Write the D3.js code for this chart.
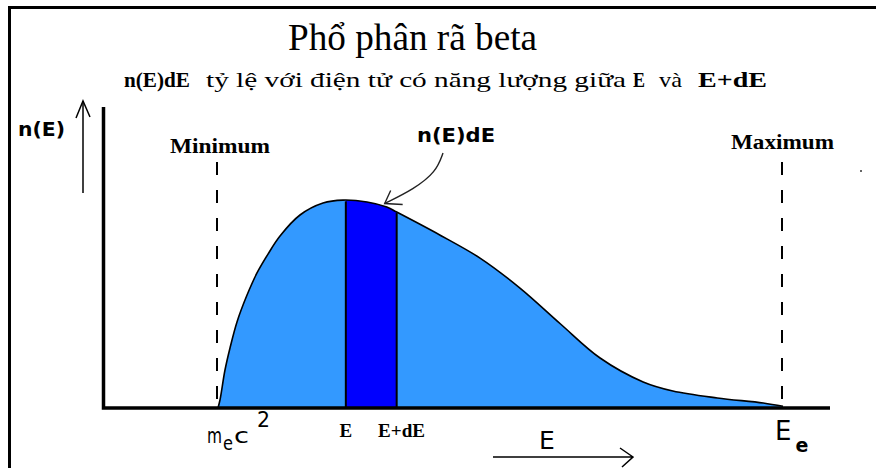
<!DOCTYPE html>
<html lang="vi">
<head>
<meta charset="UTF-8">
<title>Phổ phân rã beta</title>
<script src="https://d3js.org/d3.v7.min.js"></script>
<style>
  body { margin: 0; background: #fff; }
  svg { display: block; }
  .serif { font-family: "Liberation Serif", "Times New Roman", serif; }
  .sans { font-family: "DejaVu Sans", Verdana, sans-serif; }
</style>
</head>
<body>
<svg width="876" height="470"></svg>
<script>
// energy (arbitrary units, mec2 = 1, Ee = 9) and spectrum height n(E), peak ~ 1
const energy    = [1.00, 1.028, 1.099, 1.17, 1.269, 1.411, 1.552, 1.708, 1.878, 2.161, 2.487, 2.77, 3.11, 3.39, 3.53, 4.14, 4.71, 5.28, 5.85, 6.41, 7.02, 7.44, 8.07, 8.72, 9.00];
const intensity = [0.00, 0.038, 0.181, 0.286, 0.41, 0.538, 0.643, 0.733, 0.819, 0.919, 0.976, 0.99, 0.981, 0.957, 0.933, 0.824, 0.714, 0.57, 0.40, 0.238, 0.124, 0.081, 0.048, 0.024, 0.008];

// slice E .. E+dE
const sliceE = [2.81, 3.53];
const minE = 1, maxE = 9;

const spectrum = energy.map((e, i) => ({ e: e, n: intensity[i] }));

const svg = d3.select("svg");

const x = d3.scaleLinear().domain([1, 9]).range([218, 783]);
const y = d3.scaleLinear().domain([0, 1]).range([408, 198]);

// frame (top + left edge)
svg.append("path")
   .attr("d", "M9.5,468 V7.5 H876")
   .attr("fill", "none")
   .attr("stroke", "#000")
   .attr("stroke-width", 3);

// title
svg.append("text").attr("class", "serif")
   .attr("x", 288).attr("y", 50)
   .attr("font-size", 38)
   .attr("textLength", 249).attr("lengthAdjust", "spacingAndGlyphs")
   .text("Phổ phân rã beta");

// subtitle
const sub = [
  { t: "n(E)dE", x: 124, w: 66, b: true },
  { t: "tỷ lệ với điện tử có năng lượng giữa", x: 206, w: 420, b: false },
  { t: "E", x: 633, w: 12, b: true },
  { t: "và", x: 659, w: 23, b: false },
  { t: "E+dE", x: 698, w: 69, b: true }
];
svg.selectAll(".sub").data(sub).enter().append("text")
   .attr("class", "sub serif")
   .attr("x", d => d.x).attr("y", 87)
   .attr("font-size", 21)
   .attr("font-weight", d => d.b ? "bold" : "normal")
   .attr("textLength", d => d.w).attr("lengthAdjust", "spacingAndGlyphs")
   .text(d => d.t);

// area under the spectrum
const curve = d3.curveCatmullRom.alpha(0.5);
const area = d3.area()
   .x(d => x(d.e))
   .y0(y(0))
   .y1(d => y(d.n))
   .curve(curve);

const line = d3.line()
   .x(d => x(d.e))
   .y(d => y(d.n))
   .curve(curve);

svg.append("path")
   .datum(spectrum)
   .attr("d", area)
   .attr("fill", "#3399ff");

// dark slice between E and E+dE
svg.append("clipPath").attr("id", "slice")
   .append("rect")
   .attr("x", x(sliceE[0])).attr("y", 0)
   .attr("width", x(sliceE[1]) - x(sliceE[0])).attr("height", 470);

svg.append("path")
   .datum(spectrum)
   .attr("d", area)
   .attr("fill", "#0000ff")
   .attr("clip-path", "url(#slice)");

// slice edges
const curveY = e => {
  const i = d3.bisector(d => d.e).left(spectrum, e);
  const a = spectrum[Math.max(i - 1, 0)], b = spectrum[i];
  const t = b.e === a.e ? 0 : (e - a.e) / (b.e - a.e);
  return a.n + t * (b.n - a.n);
};
svg.selectAll(".edge").data(sliceE).enter().append("line")
   .attr("class", "edge")
   .attr("x1", d => x(d)).attr("x2", d => x(d))
   .attr("y1", y(0)).attr("y2", d => y(curveY(d)) + 1)
   .attr("stroke", "#000").attr("stroke-width", 2);

svg.append("path")
   .datum(spectrum)
   .attr("d", line)
   .attr("fill", "none")
   .attr("stroke", "#000")
   .attr("stroke-width", 1.6);

// minimum / maximum dashed lines
svg.selectAll(".lim").data([minE, maxE]).enter().append("line")
   .attr("class", "lim")
   .attr("x1", d => x(d) - 1).attr("x2", d => x(d) - 1)
   .attr("y1", 162).attr("y2", 406)
   .attr("stroke", "#000").attr("stroke-width", 2)
   .attr("stroke-dasharray", "13,15");

svg.append("text").attr("class", "serif")
   .attr("x", x(minE) - 48).attr("y", 153)
   .attr("font-size", 20).attr("font-weight", "bold")
   .attr("textLength", 100).attr("lengthAdjust", "spacingAndGlyphs")
   .text("Minimum");

svg.append("text").attr("class", "serif")
   .attr("x", x(maxE) - 52).attr("y", 149)
   .attr("font-size", 20).attr("font-weight", "bold")
   .attr("textLength", 103).attr("lengthAdjust", "spacingAndGlyphs")
   .text("Maximum");

// axes
svg.append("path")
   .attr("d", "M103.5,107 V408 H830")
   .attr("fill", "none")
   .attr("stroke", "#000")
   .attr("stroke-width", 3.5);

// n(E) label and arrow
svg.append("text").attr("class", "sans")
   .attr("x", 18).attr("y", 136)
   .attr("font-size", 19).attr("font-weight", "bold")
   .attr("textLength", 47).attr("lengthAdjust", "spacingAndGlyphs")
   .text("n(E)");

svg.append("line")
   .attr("x1", 83).attr("x2", 83).attr("y1", 193).attr("y2", 101)
   .attr("stroke", "#000").attr("stroke-width", 1.5);
svg.append("path")
   .attr("d", "M76,118 L83,101 L90,117")
   .attr("fill", "none").attr("stroke", "#000").attr("stroke-width", 1.5);

// n(E)dE annotation
svg.append("text").attr("class", "sans")
   .attr("x", 417).attr("y", 142)
   .attr("font-size", 19).attr("font-weight", "bold")
   .attr("textLength", 78).attr("lengthAdjust", "spacingAndGlyphs")
   .text("n(E)dE");

const tipX = x(3.36), tipY = y(curveY(3.36)) - 3;
svg.append("path")
   .datum([[443, 153], [436, 172], [414, 189], [tipX, tipY]])
   .attr("d", d3.line().curve(d3.curveBasis))
   .attr("fill", "none").attr("stroke", "#222").attr("stroke-width", 1.4);
svg.append("path")
   .attr("d", `M${tipX + 6},${tipY - 13} L${tipX},${tipY} L${tipX + 18},${tipY + 1}`)
   .attr("fill", "none").attr("stroke", "#222").attr("stroke-width", 1.4);

// m_e c^2 as one text with sub/superscript
const mc = svg.append("text").attr("class", "sans")
   .attr("x", 207).attr("y", 443)
   .attr("font-size", 22);
mc.append("tspan").attr("textLength", 15).attr("lengthAdjust", "spacingAndGlyphs").text("m");
mc.append("tspan").attr("dx", 1).attr("dy", 7).attr("font-size", 19)
   .attr("textLength", 10).attr("lengthAdjust", "spacingAndGlyphs").text("e");
mc.append("tspan").attr("dx", 1).attr("dy", -7)
   .attr("textLength", 15).attr("lengthAdjust", "spacingAndGlyphs").text("c");
mc.append("tspan").attr("dx", 8).attr("dy", -16)
   .attr("textLength", 13).attr("lengthAdjust", "spacingAndGlyphs").text("2");

svg.append("text").attr("class", "serif")
   .attr("x", x(sliceE[0])).attr("y", 437)
   .attr("text-anchor", "middle")
   .attr("font-size", 19).attr("font-weight", "bold")
   .text("E");
svg.append("text").attr("class", "serif")
   .attr("x", 378).attr("y", 437)
   .attr("font-size", 19).attr("font-weight", "bold")
   .attr("textLength", 47).attr("lengthAdjust", "spacingAndGlyphs")
   .text("E+dE");

// E with arrow
svg.append("text").attr("class", "sans")
   .attr("x", 539).attr("y", 449)
   .attr("font-size", 25)
   .text("E");
svg.append("path")
   .attr("d", "M493,457 H633 M620,448 L633,457 L622,467")
   .attr("fill", "none").attr("stroke", "#000").attr("stroke-width", 1.5);

// Ee
const ee = svg.append("text").attr("class", "sans")
   .attr("x", x(maxE) - 8).attr("y", 440)
   .attr("font-size", 26);
ee.append("tspan").text("E");
ee.append("tspan").attr("dx", 4).attr("dy", 12)
   .attr("font-size", 19).attr("font-weight", "bold").text("e");

// stray dot
svg.append("circle").attr("cx", 861).attr("cy", 171).attr("r", 1).attr("fill", "#333");
</script>
</body>
</html>
